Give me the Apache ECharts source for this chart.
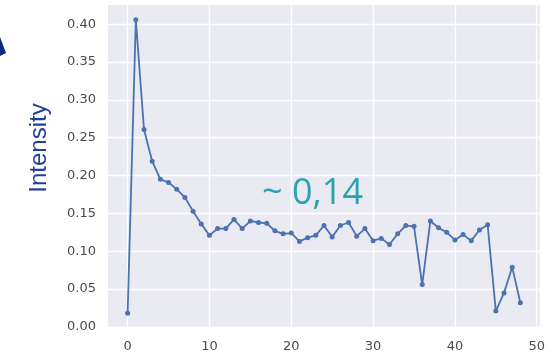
<!DOCTYPE html>
<html>
<head>
<meta charset="utf-8">
<script src="https://cdn.jsdelivr.net/npm/echarts@6/dist/echarts.min.js"></script>
<style>
  html, body { margin: 0; padding: 0; background: #ffffff; }
  #chart { width: 560px; height: 354px; }
</style>
</head>
<body>
<div id="chart"></div>
<script>
// Measured intensity per frame index
const frames = [];
for (let i = 0; i <= 48; i++) frames.push(i);
const intensity = [
  0.018, 0.406, 0.261, 0.219, 0.195, 0.191, 0.182, 0.171, 0.153, 0.136,
  0.121, 0.130, 0.130, 0.142, 0.130, 0.140, 0.138, 0.137, 0.127, 0.123,
  0.124, 0.113, 0.118, 0.121, 0.134, 0.119, 0.134, 0.138, 0.120, 0.130,
  0.114, 0.117, 0.109, 0.123, 0.134, 0.133, 0.056, 0.140, 0.131, 0.125,
  0.115, 0.122, 0.114, 0.128, 0.135, 0.021, 0.045, 0.079, 0.032
];
const xTicks = [0, 10, 20, 30, 40, 50];
const yTicks = [0, 0.05, 0.10, 0.15, 0.20, 0.25, 0.30, 0.35, 0.40];
const yTitle = 'Intensity';
const note = '~ 0,14';

const chart = echarts.init(document.getElementById('chart'), null, { renderer: 'canvas' });

const tickFont = { fontFamily: 'DejaVu Sans', fontSize: 13, color: '#4a4a4a' };

chart.setOption({
  animation: false,
  backgroundColor: '#ffffff',
  grid: {
    left: 108, right: 20, top: 5, bottom: 26,
    show: true, backgroundColor: '#eaeaf2', borderWidth: 0
  },
  xAxis: {
    type: 'value',
    min: -2.4, max: 50.4,
    axisLine: { show: false },
    axisTick: { show: false, customValues: xTicks },
    axisLabel: Object.assign({ customValues: xTicks, margin: 12, formatter: v => String(v) }, tickFont),
    splitLine: { show: true, lineStyle: { color: '#ffffff', width: 1.3 } }
  },
  yAxis: {
    type: 'value',
    min: -0.0014, max: 0.4254,
    axisLine: { show: false },
    axisTick: { show: false, customValues: yTicks },
    axisLabel: Object.assign({ customValues: yTicks, margin: 12, formatter: v => v.toFixed(2) }, tickFont),
    splitLine: { show: true, lineStyle: { color: '#ffffff', width: 1.3 } }
  },
  series: [{
    type: 'line',
    data: frames.map((f, i) => [f, intensity[i]]),
    symbol: 'circle',
    symbolSize: 5,
    lineStyle: { color: '#4c72b0', width: 1.8 },
    itemStyle: { color: '#4c72b0' },
    z: 3
  }],
  graphic: [
    {
      type: 'polygon',
      shape: { points: [[0, 37], [6, 53], [0, 56]] },
      style: { fill: '#0d2a80' }
    },
    {
      type: 'text',
      x: 39, y: 148,
      rotation: Math.PI / 2,
      style: {
        text: yTitle,
        font: '24px "Liberation Sans", Arial, sans-serif',
        fill: '#1e3f9e',
        align: 'center',
        verticalAlign: 'middle'
      }
    },
    {
      type: 'text',
      x: 262, y: 194,
      z: 10,
      style: {
        text: note,
        font: '36px "Open Sans", sans-serif',
        fill: '#2aa2b4',
        align: 'left',
        verticalAlign: 'middle'
      }
    }
  ]
});
</script>
</body>
</html>
